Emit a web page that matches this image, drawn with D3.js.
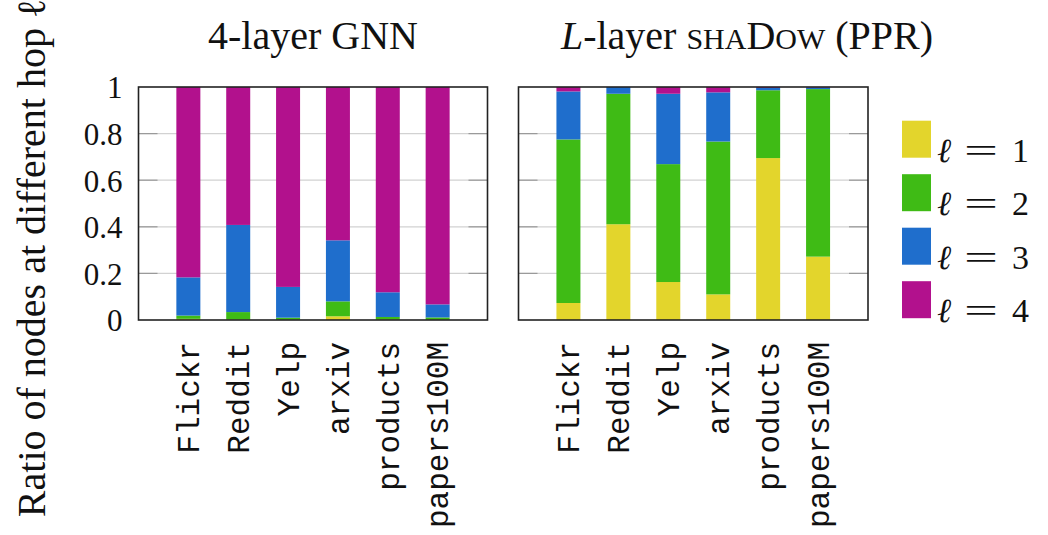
<!DOCTYPE html>
<html><head><meta charset="utf-8">
<script src="https://cdn.jsdelivr.net/npm/d3@7"></script>
<style>
html,body{margin:0;padding:0;background:#fff;}
svg{display:block;}
.serif{font-family:"Liberation Serif","Tinos","Times New Roman","Nimbus Roman","DejaVu Serif","Noto Serif",serif;}
.mono{font-family:"Liberation Mono","Cousine","Courier New","DejaVu Sans Mono",monospace;}
</style></head>
<body>
<svg id="chart" width="1048" height="535"></svg>
<script>
// ---- data ----
const categories = ["Flickr","Reddit","Yelp","arxiv","products","papers100M"];
const seriesKeys = ["l1","l2","l3","l4"];
const legendLabels = ["1","2","3","4"];
const yTicks = [0,0.2,0.4,0.6,0.8,1];
// 4-layer GNN
const gnnL1 = [0.005,0.002,0.001,0.016,0.002,0.001];
const gnnL2 = [0.014,0.032,0.009,0.064,0.011,0.010];
const gnnL3 = [0.164,0.374,0.132,0.262,0.106,0.056];
const gnnL4 = [0.817,0.592,0.858,0.658,0.881,0.933];
// L-layer SHADOW (PPR)
const shaL1 = [0.073,0.411,0.163,0.110,0.695,0.272];
const shaL2 = [0.702,0.560,0.506,0.656,0.291,0.719];
const shaL3 = [0.206,0.029,0.302,0.211,0.010,0.007];
const shaL4 = [0.019,0.000,0.029,0.023,0.004,0.002];

const colors = ["#e3d52c","#3fbb15","#1f6ecc","#b2118d"];

(function(){
const svg = d3.select("#chart");
const yTop = 87, yBottom = 320;
const panels = [
  {x0:138.5, x1:487.5, data:[gnnL1,gnnL2,gnnL3,gnnL4]},
  {x0:518.5, x1:868, data:[shaL1,shaL2,shaL3,shaL4]}
];
const y = d3.scaleLinear().domain([0,1]).range([yBottom, yTop]);

panels.forEach((p, pi) => {
  const W = p.x1 - p.x0;
  const x = d3.scaleLinear().domain([0, categories.length + 1]).range([0, W]);
  const g = svg.append("g").attr("transform", `translate(${p.x0},0)`);
  const rows = categories.map((c, i) => {
    const r = {cat: c, idx: i + 1};
    seriesKeys.forEach((k, j) => r[k] = p.data[j][i]);
    return r;
  });
  const stacked = d3.stack().keys(seriesKeys)(rows);

  const grid = yTicks.filter(t => t > 0 && t < 1);
  g.append("g").selectAll("line").data(grid).join("line")
    .attr("x1", 0).attr("x2", W)
    .attr("y1", d => y(d)).attr("y2", d => y(d))
    .attr("stroke", "#d2d2d2").attr("stroke-width", 1.2);
  [[0, 19], [W - 19, W]].forEach(([a, b]) => {
    g.append("g").selectAll("line").data(grid).join("line")
      .attr("x1", a).attr("x2", b)
      .attr("y1", d => y(d)).attr("y2", d => y(d))
      .attr("stroke", "#9a9a9a").attr("stroke-width", 1.2);
  });

  const bw = 24;
  g.append("g").selectAll("g").data(stacked).join("g")
    .attr("fill", (d, i) => colors[i])
    .selectAll("rect").data(d => d).join("rect")
    .attr("x", d => x(d.data.idx) - bw / 2)
    .attr("width", bw)
    .attr("y", d => y(d[1]))
    .attr("height", d => Math.max(0, y(d[0]) - y(d[1])));

  g.append("rect").attr("x", 0).attr("y", yTop).attr("width", W).attr("height", yBottom - yTop)
    .attr("fill", "none").attr("stroke", "#222").attr("stroke-width", 1.6);

  const xa = d3.axisBottom(x).tickValues(categories.map((c, i) => i + 1))
    .tickFormat((d) => categories[d - 1]).tickSize(0);
  const xg = g.append("g").attr("transform", `translate(0,${yBottom})`).call(xa);
  xg.select(".domain").remove();
  xg.attr("font-family", null).attr("font-size", null);
  xg.selectAll(".tick text")
    .attr("class", "mono")
    .style("font-size", "31px").attr("fill", "#111")
    .attr("text-anchor", "end")
    .attr("transform", "rotate(-90)")
    .attr("x", -22).attr("y", 0).attr("dy", "0.33em");

  if (pi === 0) {
    const ya = d3.axisLeft(y).tickValues(yTicks)
      .tickFormat(d => d === 0 ? "0" : d === 1 ? "1" : d3.format(".1f")(d)).tickSize(0).tickPadding(16);
    const yg = g.append("g").call(ya);
    yg.select(".domain").remove();
    yg.attr("font-family", null).attr("font-size", null);
    yg.selectAll("text").attr("class", "serif")
      .style("font-size", "31px").attr("fill", "#111").attr("dy", "0.35em");
  }
});

svg.append("text").attr("class", "serif").attr("x", 313).attr("y", 49).attr("text-anchor", "middle")
  .style("font-size", "40px").attr("fill", "#111").text("4-layer GNN");
const t2 = svg.append("text").attr("class", "serif").attr("x", 747).attr("y", 49).attr("text-anchor", "middle")
  .style("font-size", "40px").attr("fill", "#111");
t2.append("tspan").attr("font-style", "italic").text("L");
t2.append("tspan").text("-layer ");
t2.append("tspan").style("font-size", "30px").text("SHA");
t2.append("tspan").text("D");
t2.append("tspan").style("font-size", "30px").text("OW");
t2.append("tspan").text(" (PPR)");

svg.append("text").attr("class", "serif").attr("transform", "translate(45,258) rotate(-90)")
  .attr("text-anchor", "middle").style("font-size", "40px").attr("fill", "#111")
  .text("Ratio of nodes at different hop ℓ");

const lg = svg.append("g");
legendLabels.forEach((lab, i) => {
  const y0 = 120.7 + i * 53.5;
  lg.append("rect").attr("x", 902).attr("y", y0).attr("width", 29).attr("height", 37).attr("fill", colors[i]);
  const base = y0 + 41;
  lg.append("text").attr("class", "serif").attr("x", 937).attr("y", base).attr("font-style", "italic")
    .style("font-size", "34px").attr("fill", "#111").text("ℓ");
  lg.append("text").attr("class", "serif").attr("x", 964).attr("y", base)
    .style("font-size", "34px").attr("fill", "#111").attr("textLength", 34).attr("lengthAdjust", "spacingAndGlyphs").text("=");
  lg.append("text").attr("class", "serif").attr("x", 1012).attr("y", base)
    .style("font-size", "34px").attr("fill", "#111").text(lab);
});
})();
</script>
</body></html>
